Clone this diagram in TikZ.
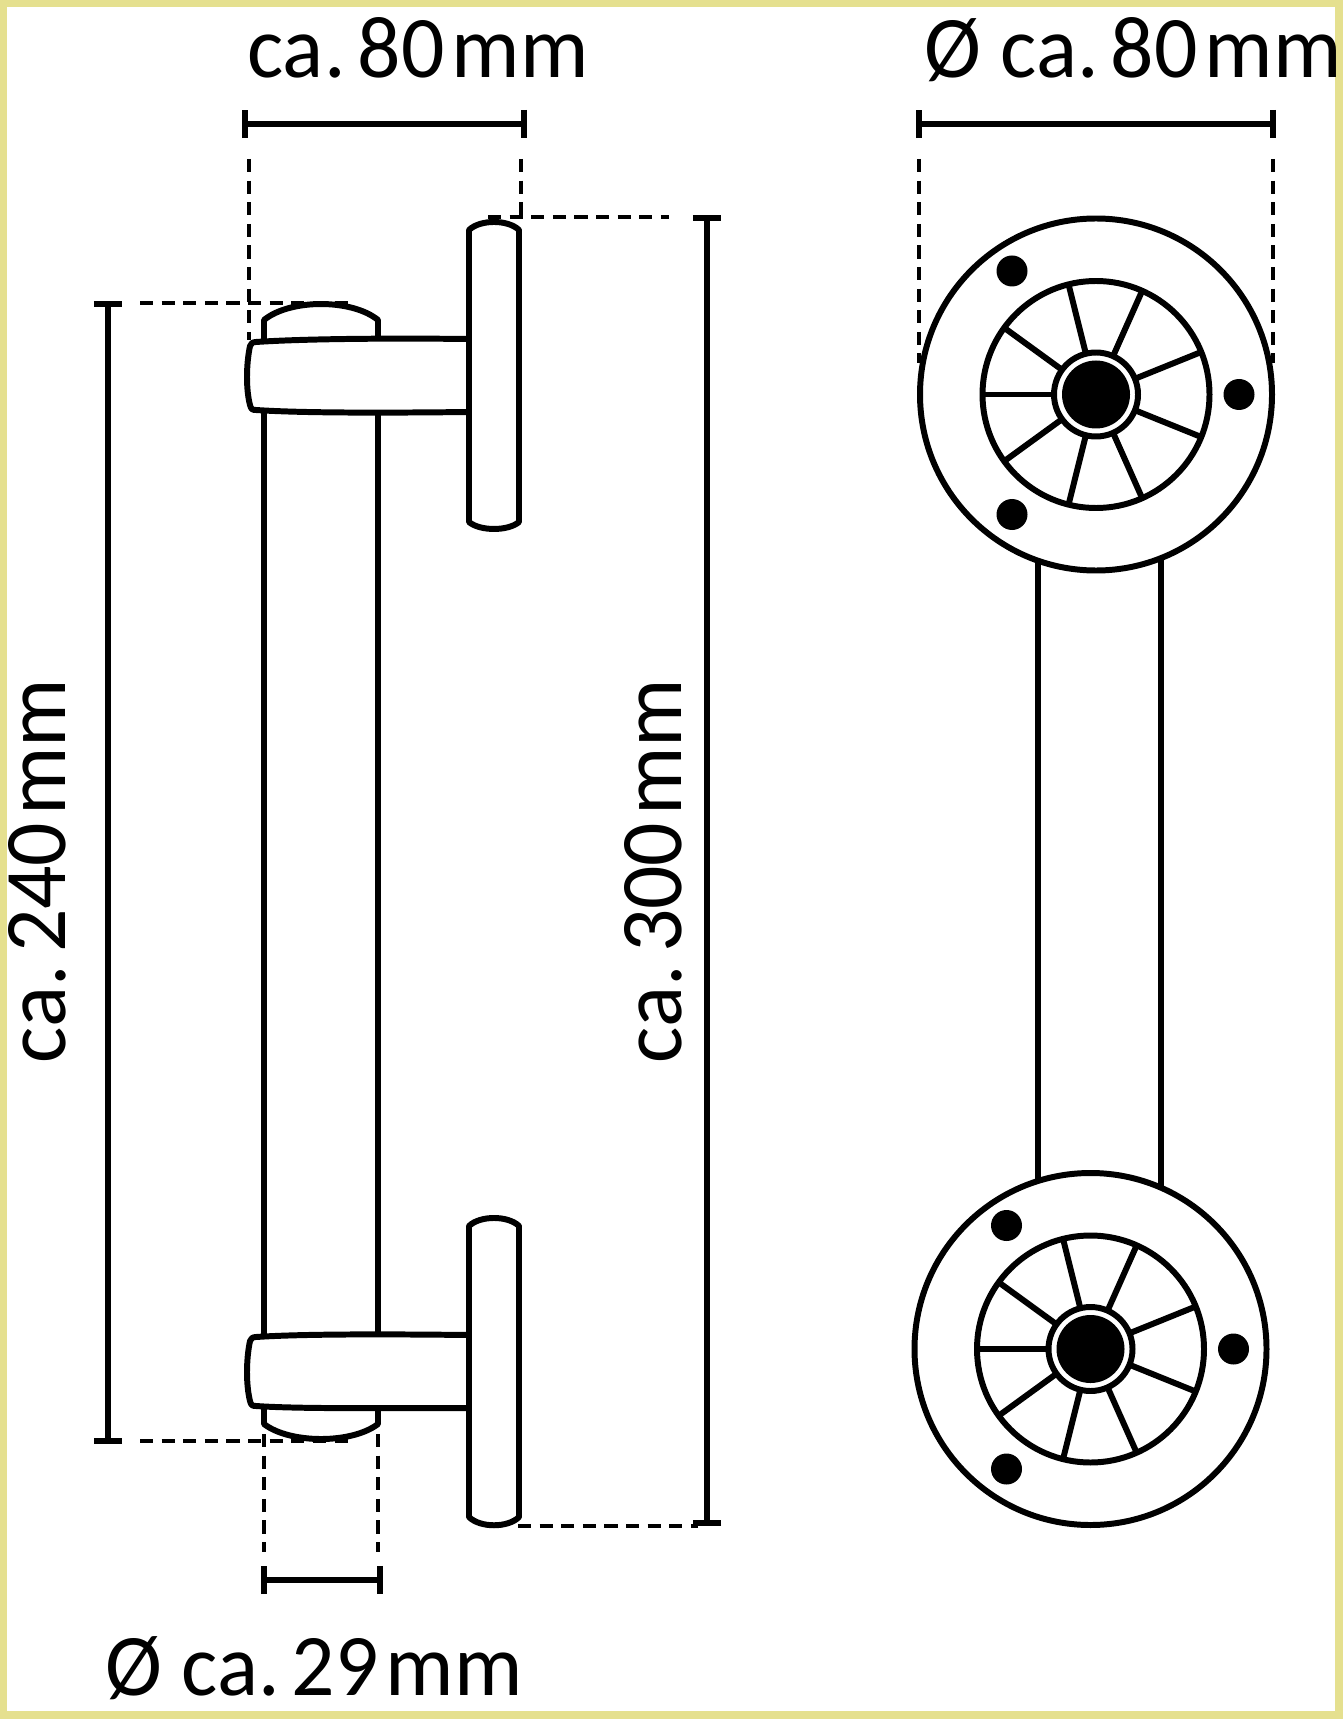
\documentclass[tikz,border=0pt]{standalone}
\usepackage{fontspec}
\setmainfont[FakeStretch=0.975]{Carlito}
\usepackage{xcolor}
\usetikzlibrary{arrows.meta,calc}
\definecolor{rim}{HTML}{E5E08F}
\tikzset{
  part/.style={draw, line width=3.4pt, line join=round},
  partfill/.style={part, fill=white},
  dim/.style={{Bar[width=16pt,length=3.4pt]}-{Bar[width=16pt,length=3.4pt]}, line width=3.5pt},
  ext/.style={line width=2.5pt, dash pattern=on 7.5pt off 4.8pt},
  lab/.style={font=\fontsize{50pt}{60pt}\selectfont, inner sep=0pt, anchor=base},
  hole/.style={fill=black},
}
\newcommand{\caa}{ca.\kern7pt }
\newcommand{\mmu}{\kern4pt mm}
% plate seen from the front: (centre x, centre y)
\newcommand{\plate}[2]{
  \begin{scope}[shift={(#1,#2)}]
    \draw[partfill] (0,0) circle[radius=176];
    \draw[part] (0,0) circle[radius=113.5];
    \foreach \a in {180,-144,-104,-66,-22,22,66,104,144}
      \draw[part] (\a:43) -- (\a:113);
    \draw[part] (0,0) circle[radius=42];
    \fill[hole] (0,0) circle[radius=34];
    \fill[hole] (-84,-123.5) circle[radius=15.5];
    \fill[hole] (143,0) circle[radius=15.5];
    \fill[hole] (-84,120) circle[radius=15.5];
  \end{scope}
}

\begin{document}
\begin{tikzpicture}[x=0.02cm,y=-0.02cm]
\useasboundingbox (0,0) rectangle (1343,1719);
\fill[rim] (0,0) rectangle (1343,1719);
\fill[white] (7,7) rectangle (1335,1711);

% side view
\draw[part] (264,412) -- (264,1335);
\draw[part] (378,412) -- (378,1335);
\draw[part] (264,339) -- (264,320) .. controls (290,298.7) and (352,298.7) .. (378,320) -- (378,339);
\draw[part] (264,1408) -- (264,1424) .. controls (290,1444) and (352,1444) .. (378,1424) -- (378,1408);
\draw[part] (469,339) .. controls (380,338) and (300,339) .. (256,342) .. controls (252,342) and (251,344) .. (250,346)
  .. controls (246,365) and (246,390) .. (250,405) .. controls (251,409) and (252,410) .. (256,410)
  .. controls (300,413) and (380,413) .. (469,412);
\draw[part] (469,1335) .. controls (380,1334) and (300,1334) .. (256,1337) .. controls (252,1337) and (251,1339) .. (250,1341)
  .. controls (246,1360) and (246,1385) .. (250,1401) .. controls (251,1405) and (252,1406) .. (256,1406)
  .. controls (300,1409) and (380,1408) .. (469,1408);
\draw[part] (469,230) .. controls (480,219.3) and (508,219.3) .. (519,230) -- (519,522)
  .. controls (508,531.3) and (480,531.3) .. (469,522) -- cycle;
\draw[part] (469,1226) .. controls (480,1215.3) and (508,1215.3) .. (519,1226) -- (519,1517)
  .. controls (508,1528) and (480,1528) .. (469,1517) -- cycle;

% front view
\draw[part] (1038,550) -- (1038,1190);
\draw[part] (1161,550) -- (1161,1190);
\plate{1096}{394.5}
\plate{1090.5}{1349}

% extension lines
\draw[ext] (249,159) -- (249,340);
\draw[ext] (521,159) -- (521,217);
\draw[ext] (919,159) -- (919,363);
\draw[ext] (1273,159) -- (1273,363);
\draw[ext] (140,303) -- (348,303);
\draw[ext] (140,1441) -- (348,1441);
\draw[ext] (488,217) -- (669,217);
\draw[ext] (518,1526) -- (698,1526);
\draw[ext] (264,1434) -- (264,1552);
\draw[ext] (378,1434) -- (378,1552);

% dimensions
\draw[dim] (242,124) -- (527,124);
\draw[dim] (916,124) -- (1276,124);
\draw[dim] (108,301) -- (108,1444);
\draw[dim] (707,215) -- (707,1526);
\draw[dim] (261,1580) -- (383,1580);

\node[lab] (wide) at (418,78) {\caa 80\mmu};
\node[lab] (dia) at (1133,78) {Ø \caa 80\mmu};
\node[lab] (tube) at (314,1695) {Ø \caa 29\mmu};
\node[lab, rotate=90] (inner) at (65,871) {\caa 240\mmu};
\node[lab, rotate=90] (outer) at (681,871) {\caa 300\mmu};
\end{tikzpicture}
\end{document}
